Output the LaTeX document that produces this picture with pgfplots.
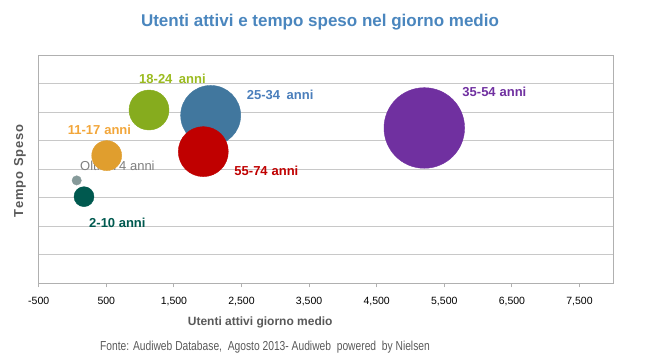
\documentclass[border=0pt]{standalone}
\usepackage{fontspec}
\setmainfont{Liberation Sans}
\usepackage{pgfplots}
\pgfplotsset{compat=1.18}
\definecolor{cTeal}{HTML}{00594F}
\definecolor{cGrey}{HTML}{869A9A}
\definecolor{cOrange}{HTML}{E09E2E}
\definecolor{cGreen}{HTML}{86AC1E}
\definecolor{cBlue}{HTML}{41779E}
\definecolor{cRed}{HTML}{C00000}
\definecolor{cPurple}{HTML}{7030A0}
\definecolor{tGreen}{HTML}{9BBB1F}
\definecolor{tOrange}{HTML}{F2A63A}
\definecolor{tBlue}{HTML}{4A7EBB}
\definecolor{tGrey}{HTML}{7F7F7F}
\definecolor{titleBlue}{HTML}{4A86BE}
\definecolor{axGrey}{HTML}{595959}
\definecolor{gridGrey}{HTML}{C8C8C8}
\definecolor{frameGrey}{HTML}{B0B0B0}
\begin{document}
\begin{tikzpicture}
\path[use as bounding box] (-38.7pt,-71.7pt) rectangle (615.3pt,283.3pt);
\begin{axis}[
  at={(0pt,0pt)}, anchor=south west,
  scale only axis, width=574.6pt, height=228pt,
  xmin=-500, xmax=8000, ymin=0, ymax=8,
  xtick={-500,500,1500,2500,3500,4500,5500,6500,7500},
  xticklabels={-500,500,{1,500},{2,500},{3,500},{4,500},{5,500},{6,500},{7,500}},
  ytick={0,1,...,8}, yticklabels={},
  ymajorgrids, major grid style={gridGrey, line width=0.8pt},
  axis line style={frameGrey, line width=0.8pt},
  x tick style={frameGrey, line width=0.8pt},
  y tick style={draw=none},
  tick align=outside, major tick length=4pt,
  xtick pos=bottom, ytick pos=left,
  xticklabel style={font=\fontsize{10.5}{12}\selectfont, text=black, yshift=-6pt},
  clip=false,
]
\addplot[only marks, mark=*, mark size=10pt, mark options={fill=cTeal, draw=cTeal}] coordinates {(170,3.04)};
\addplot[only marks, mark=*, mark size=4.7pt, mark options={fill=cGrey, draw=cGrey}] coordinates {(62,3.61)};
\addplot[only marks, mark=*, mark size=15pt, mark options={fill=cOrange, draw=cOrange}] coordinates {(506,4.48)};
\addplot[only marks, mark=*, mark size=20pt, mark options={fill=cGreen, draw=cGreen}] coordinates {(1132,6.08)};
\addplot[only marks, mark=*, mark size=30pt, mark options={fill=cBlue, draw=cBlue}] coordinates {(2044,5.89)};
\addplot[only marks, mark=*, mark size=25pt, mark options={fill=cRed, draw=cRed}] coordinates {(1935,4.62)};
\addplot[only marks, mark=*, mark size=40.3pt, mark options={fill=cPurple, draw=cPurple}] coordinates {(5204,5.45)};
\begin{scope}[every node/.style={anchor=west, inner sep=0pt, font=\fontsize{13}{15}\selectfont\bfseries}]
\node[text=tGreen] at (axis cs:984,7.19) {18-24\hspace{0.5em}anni};
\node[text=tBlue] at (axis cs:2577,6.61) {25-34\hspace{0.5em}anni};
\node[text=tOrange] at (axis cs:-71,5.38) {11-17\hspace{0.3em}anni};
\node[text=tGrey, font=\fontsize{13}{15}\selectfont] at (axis cs:111,4.13) {Oltre 74 anni};
\node[text=cTeal] at (axis cs:244,2.13) {2-10 anni};
\node[text=cRed] at (axis cs:2393,3.94) {55-74\hspace{0.3em}anni};
\node[text=cPurple] at (axis cs:5766,6.72) {35-54\hspace{0.3em}anni};
\end{scope}
\end{axis}
\node[text=titleBlue, font=\fontsize{17}{20}\selectfont\bfseries] at (281.3pt,261.3pt) {Utenti attivi e tempo speso nel giorno medio};
\node[text=axGrey, font=\fontsize{12}{14}\selectfont\bfseries] at (221.5pt,-39.4pt) {Utenti attivi giorno medio};
\node[text=axGrey, font=\fontsize{13}{15}\selectfont] at (226.3pt,-63.5pt) {\scalebox{0.79}[1]{Fonte: Audiweb Database,\ \ Agosto 2013-\ Audiweb\ \ powered\ \ by Nielsen}};
\node[text=axGrey, rotate=90, font=\fontsize{13}{15}\selectfont\bfseries] at (-18.7pt,112.3pt) {T\kern0.8pt e\kern0.8pt m\kern0.8pt p\kern0.8pt o\ \kern0.8pt S\kern0.8pt p\kern0.8pt e\kern0.8pt s\kern0.8pt o};
\end{tikzpicture}
\end{document}
